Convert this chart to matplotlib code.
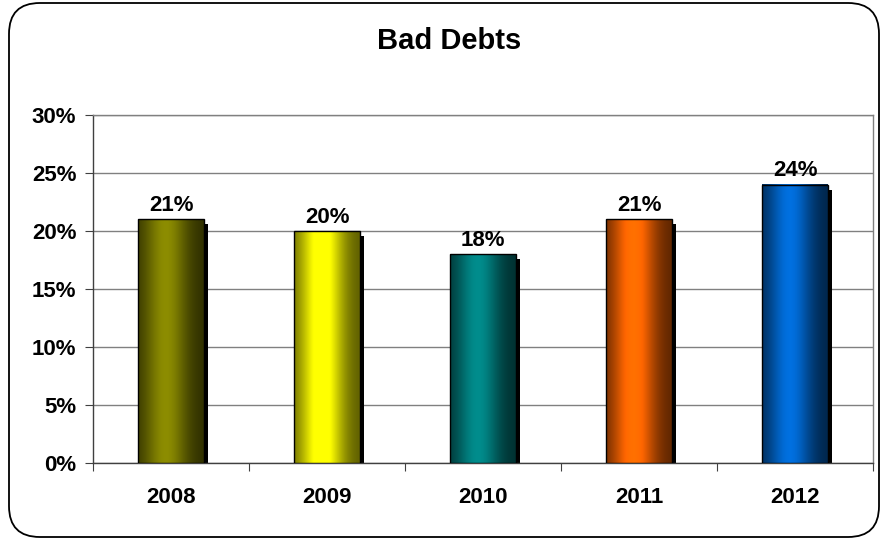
import matplotlib.pyplot as plt
import matplotlib.transforms as mtransforms
from matplotlib.patches import Rectangle, FancyBboxPatch
from matplotlib.colors import to_rgb
import numpy as np

plt.rcParams['font.family'] = ['Liberation Sans', 'DejaVu Sans']
plt.rcParams['font.weight'] = 'bold'

years = ['2008', '2009', '2010', '2011', '2012']
bad_debts = [21, 20, 18, 21, 24]
bar_colors = ['#808000', '#FFFF00', '#008080', '#FF6600', '#0066CC']
yticks = [0, 5, 10, 15, 20, 25, 30]

W, H = 881, 540
fig = plt.figure(figsize=(W / 100, H / 100), dpi=100)

# rounded outer border
border = FancyBboxPatch((9 / W, 3 / H), (870 / W), (534 / H),
                        boxstyle='round,pad=0,rounding_size=0.035',
                        transform=fig.transFigure, fill=False,
                        edgecolor='black', linewidth=1.3, mutation_aspect=W / H)
fig.patches.append(border)

ax = fig.add_axes([93 / W, (H - 463) / H, 780 / W, 348 / H])
x = np.arange(len(years))

for t in yticks:
    ax.axhline(t, color='#808080', linewidth=1, zorder=1)

bw = 0.42
# horizontal shading profile (dark edges, bright left of centre)
s = np.linspace(0, 1, 200)
prof = 0.35 + 0.75 * np.exp(-((s - 0.42) / 0.33) ** 2)

shadow_tr = mtransforms.offset_copy(ax.transData, fig=fig, x=4, y=-5, units='dots')
for i, (v, c) in enumerate(zip(bad_debts, bar_colors)):
    x0 = i - bw / 2
    x1 = i + bw / 2
    ax.add_patch(Rectangle((x0, 0), bw, v, transform=shadow_tr,
                           facecolor='black', edgecolor='none', zorder=2))
    rgb = np.array(to_rgb(c))
    img = np.clip(prof[:, None] * rgb[None, :], 0, 1)[None, :, :]
    ax.imshow(img, extent=(x0, x1, 0, v), aspect='auto', zorder=3,
              interpolation='bilinear')
    ax.add_patch(Rectangle((x0, 0), bw, v, facecolor='none',
                           edgecolor='black', linewidth=1, zorder=4))
    ax.text(i, v + 0.3, f'{v}%', ha='center', va='bottom',
            fontsize=16, fontweight='bold', zorder=5)

ax.set_xlim(-0.5, len(years) - 0.5)
ax.set_ylim(0, 30)

ax.set_yticks(yticks)
ax.set_yticklabels([f'{t}%' for t in yticks], fontsize=16, fontweight='bold')
ax.set_xticks(np.arange(-0.5, len(years), 1))
ax.set_xticklabels([])
ax.set_xticks(x, minor=True)
ax.set_xticklabels(years, minor=True, fontsize=16, fontweight='bold')
ax.tick_params(axis='x', which='major', length=6, color='#404040', direction='out')
ax.tick_params(axis='x', which='minor', length=0, pad=17)
ax.tick_params(axis='y', length=6, color='#404040', direction='out', pad=6)

for side in ['left', 'bottom']:
    ax.spines[side].set_color('#404040')
    ax.spines[side].set_linewidth(1)
for side in ['top', 'right']:
    ax.spines[side].set_color('#808080')
    ax.spines[side].set_linewidth(1)

fig.text(449 / W, 1 - 41 / H, 'Bad Debts', ha='center', va='center',
         fontsize=21, fontweight='bold')

fig.savefig('out.png', dpi=100)
